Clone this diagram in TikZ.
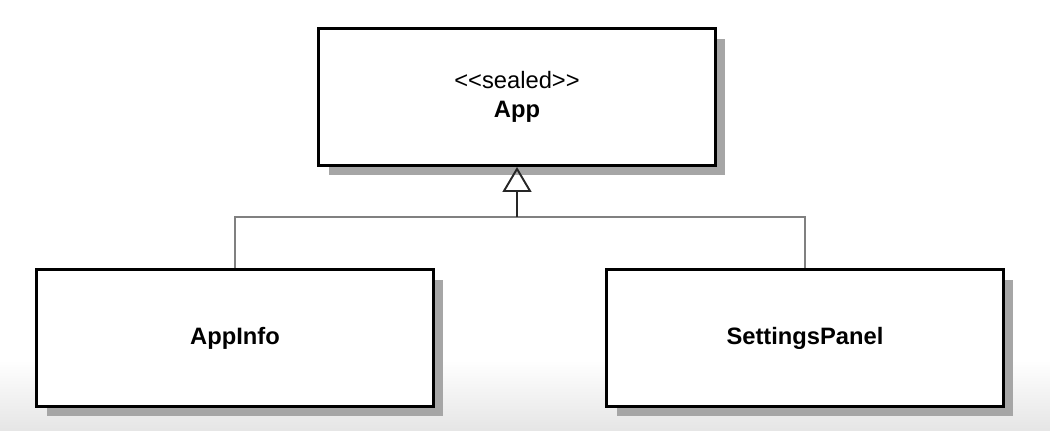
\documentclass[tikz,border=0pt]{standalone}
\usepackage{fontspec}
\setmainfont{Liberation Sans}
\usetikzlibrary{arrows.meta,shadows}
\begin{document}
\begin{tikzpicture}[x=0.02cm,y=-0.02cm,
  every node/.style = {shape=rectangle, draw, line width=1.7pt,
    fill=white, align=center, inner sep=0pt,
    minimum width=7.94cm, minimum height=2.74cm,
    font=\fontsize{13.5}{16.5}\selectfont,
    drop shadow={shadow xshift=2mm, shadow yshift=-2mm, fill=black!35, opacity=1}},
  link/.style = {draw=black!50, line width=1.1pt}]
  % page and faint grey floor
  \useasboundingbox (0,0) rectangle (1050,430);
  \shade[top color=white, bottom color=black!10, draw=none] (0,360) rectangle (1050,430);
  % classes
  \node (app) at (517,97) {<\kern0pt<sealed>\kern0pt>\\ \textbf{App}};
  \node (appinfo) at (235,338) {\textbf{AppInfo}};
  \node (settings) at (805,338) {\textbf{SettingsPanel}};
  % generalisation
  \coordinate (split) at (517,217);
  \draw[link] (appinfo.north) |- (split) -| (settings.north);
  \draw[line width=1.1pt, draw=black!85,
    -{Triangle[open, width=5.8mm, length=5mm, line width=1.1pt]}] (split) -- (app.south);
\end{tikzpicture}
\end{document}
